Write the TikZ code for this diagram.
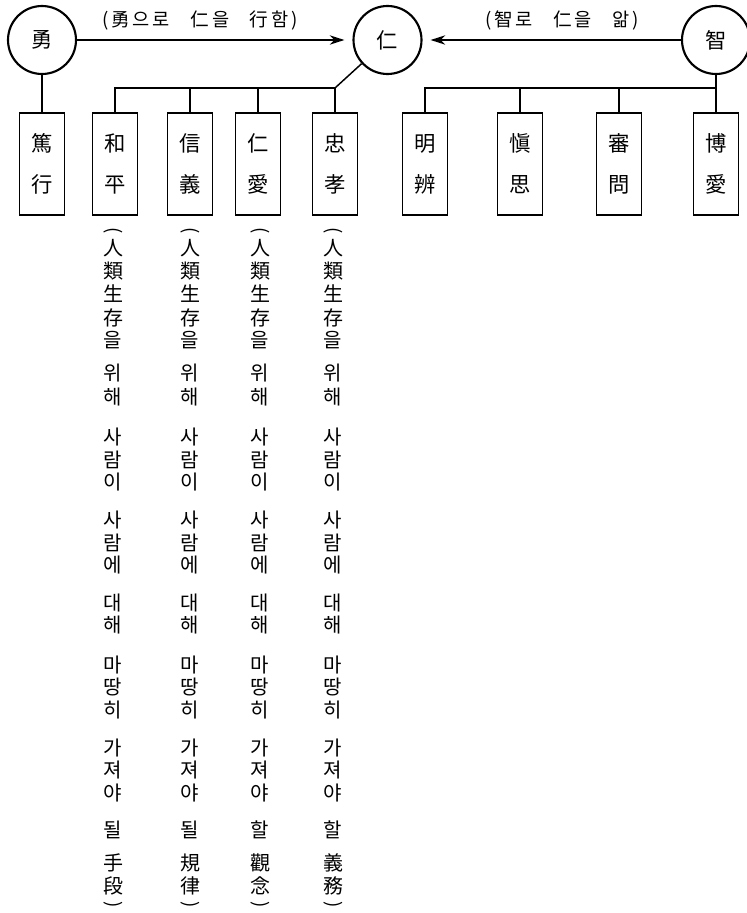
\documentclass[tikz,border=0pt]{standalone}
\usepackage{fontspec}
\newfontfamily\cjk{Noto Sans CJK KR}
\newfontfamily\cjklab[LetterSpace=15]{Noto Sans CJK KR}
\usetikzlibrary{arrows.meta}
\begin{document}
\begin{tikzpicture}[x=0.75pt,y=-0.75pt,
  every node/.style={font=\cjk},
  circ/.style={circle,draw,line width=1.6pt,minimum size=51pt,inner sep=0pt,font=\cjk\fontsize{16}{16}\selectfont},
  bx/.style={rectangle,draw,line width=1pt,minimum width=33.75pt,minimum height=76.5pt,inner sep=0pt,align=center,font=\cjk\fontsize{16}{30.75}\selectfont},
  lab/.style={inner sep=0pt,font=\cjklab\fontsize{14}{14}\selectfont},
  vch/.style={inner sep=0pt,font=\cjk\fontsize{15}{15}\selectfont},
  vpar/.style={inner sep=0pt,rotate=-90,font=\cjk\fontsize{14}{14}\selectfont},
  arr/.style={line width=1.3pt,-{Stealth[length=11pt,width=7pt]},shorten >=6pt},
  conn/.style={line width=1.1pt}]
\useasboundingbox[fill=white] (0,0) rectangle (746,913);

% circles
\node[circ] (yong) at (42,40) {勇};
\node[circ] (in) at (387.5,40) {仁};
\node[circ] (ji) at (716,40) {智};

% labels
\node[lab] (l1) at (200,20) {(勇으로\hspace{1.1em}仁을\hspace{1.1em}行함)};
\node[lab] (l2) at (562,20) {(智로\hspace{1.1em}仁을\hspace{1.1em}앎)};

% arrows
\draw[arr] (yong) -- (in);
\draw[arr] (ji) -- (in);

% boxes
\node[bx] (b1) at (42,164) {篤\\行};
\node[bx] (b2) at (115,164) {和\\平};
\node[bx] (b3) at (190,164) {信\\義};
\node[bx] (b4) at (258,164) {仁\\愛};
\node[bx] (b5) at (335,164) {忠\\孝};
\node[bx] (b6) at (425,164) {明\\辨};
\node[bx] (b7) at (520,164) {愼\\思};
\node[bx] (b8) at (619,164) {審\\問};
\node[bx] (b9) at (716,164) {博\\愛};

% connectors
\coordinate (jL) at (335,88);
\coordinate (jR) at (716,88);
\draw[conn] (yong) -- (b1);
\draw[conn] (in) -- (jL);
\draw[conn] (jL) -| (b2.north);
\draw[conn] (b3.north |- jL) -- (b3.north);
\draw[conn] (b4.north |- jL) -- (b4.north);
\draw[conn] (jL) -- (b5.north);
\draw[conn] (ji) -- (b9);
\draw[conn] (jR) -| (b6.north);
\draw[conn] (b7.north |- jR) -- (b7.north);
\draw[conn] (b8.north |- jR) -- (b8.north);

% vertical texts
\foreach \x/\a/\b/\c [count=\k] in {113/될/手/段, 190/될/規/律, 260/할/觀/念, 333/할/義/務} {
  \node[vpar] (vo\k) at (\x,231) {(};
  \foreach \y/\ch [count=\j] in {248/人, 271/類, 294/生, 318/存, 340/을,
      373/위, 397/해, 437/사, 460/람, 482/이, 520/사, 543/람, 565/에,
      603/대, 625/해, 665/마, 687/땅, 710/히, 748/가, 770/져, 793/야,
      830/\a, 863/\b, 886/\c}
    \node[vch] (v\k-\j) at (\x,\y) {\ch};
  \node[vpar] (vc\k) at (\x,905) {)};
}
\end{tikzpicture}
\end{document}
